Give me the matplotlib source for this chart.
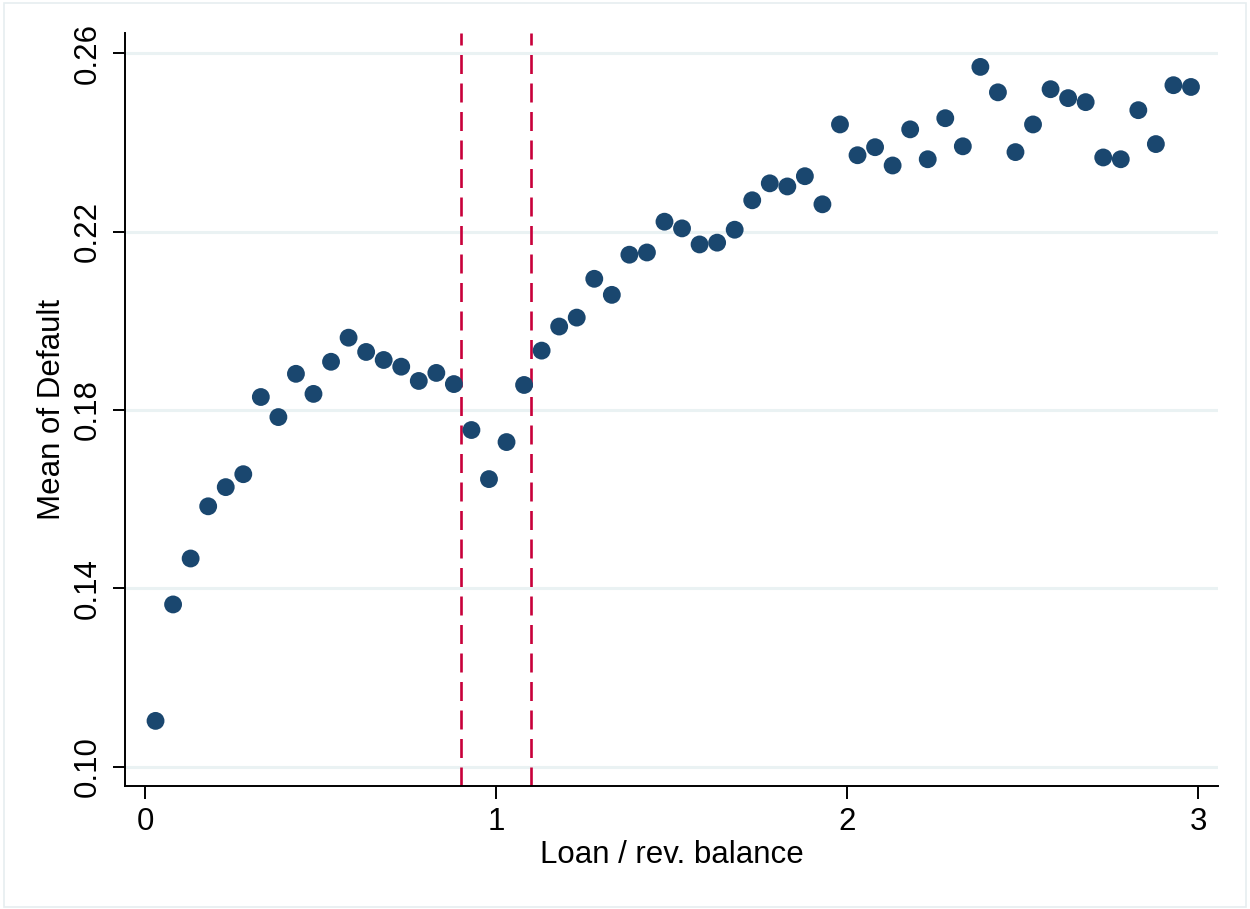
import matplotlib
matplotlib.use("Agg")
import matplotlib.pyplot as plt

plt.rcParams['font.family'] = ['Liberation Sans', 'DejaVu Sans']

# Bin centres of loan / revolving balance
x_bins = [
    0.03, 0.08, 0.13, 0.18, 0.23, 0.28, 0.33, 0.38, 0.43, 0.48,
    0.53, 0.58, 0.63, 0.68, 0.73, 0.78, 0.83, 0.88, 0.93, 0.98,
    1.03, 1.08, 1.13, 1.18, 1.23, 1.28, 1.33, 1.38, 1.43, 1.48,
    1.53, 1.58, 1.63, 1.68, 1.73, 1.78, 1.83, 1.88, 1.93, 1.98,
    2.03, 2.08, 2.13, 2.18, 2.23, 2.28, 2.33, 2.38, 2.43, 2.48,
    2.53, 2.58, 2.63, 2.68, 2.73, 2.78, 2.83, 2.88, 2.93, 2.98,
]
mean_default = [
    0.1103, 0.1364, 0.1467, 0.1584, 0.1627, 0.1656, 0.1829, 0.1784, 0.1881, 0.1836,
    0.1908, 0.1962, 0.1930, 0.1912, 0.1897, 0.1865, 0.1883, 0.1858, 0.1755, 0.1645,
    0.1728, 0.1856, 0.1933, 0.1987, 0.2007, 0.2094, 0.2058, 0.2148, 0.2153, 0.2222,
    0.2207, 0.2171, 0.2175, 0.2204, 0.2270, 0.2308, 0.2301, 0.2324, 0.2261, 0.2440,
    0.2371, 0.2389, 0.2348, 0.2429, 0.2362, 0.2454, 0.2391, 0.2569, 0.2512, 0.2378,
    0.2440, 0.2519, 0.2499, 0.2490, 0.2366, 0.2362, 0.2472, 0.2396, 0.2528, 0.2524,
]
cutoffs = [0.9, 1.1]
x_ticks = [0, 1, 2, 3]
y_ticks = [0.10, 0.14, 0.18, 0.22, 0.26]
y_tick_labels = ["0.10", "0.14", "0.18", "0.22", "0.26"]

fig = plt.figure(figsize=(12.5, 9.09), dpi=100)
fig.patch.set_facecolor('white')
ax = fig.add_axes([0.1, 0.1353, 0.8744, 0.8284])

# outer graph-region border
border = plt.Rectangle((0.003, 0.002), 0.994, 0.995, transform=fig.transFigure,
                       fill=False, edgecolor='#e6eef0', linewidth=1.2)
fig.add_artist(border)

for yt in y_ticks:
    ax.axhline(yt, color='#eaf2f3', linewidth=2.2, zorder=0)

for c in cutoffs:
    ax.axvline(c, color='#c8003a', linewidth=1.9, linestyle=(0, (7.2, 3.6)), zorder=1)

ax.scatter(x_bins, mean_default, s=165, color='#1a476f', edgecolors='none', zorder=3)

ax.set_xlim(-0.057, 3.057)
ax.set_ylim(0.0957, 0.2645)
ax.set_xticks(x_ticks)
ax.set_xticklabels([str(t) for t in x_ticks])
ax.set_yticks(y_ticks)
ax.set_yticklabels(y_tick_labels, rotation=90, va='center')

for s in ['top', 'right']:
    ax.spines[s].set_visible(False)
for s in ['left', 'bottom']:
    ax.spines[s].set_linewidth(1.4)
    ax.spines[s].set_color('black')

ax.tick_params(axis='both', labelsize=22.5, length=9, width=1.4, color='black', pad=6)
ax.tick_params(axis='y', pad=7)

ax.set_xlabel('Loan / rev. balance', fontsize=22.5, labelpad=2.5)
ax.set_ylabel('Mean of Default', fontsize=22.5, labelpad=4.5)

fig.savefig('out.png', dpi=100, facecolor='white')
